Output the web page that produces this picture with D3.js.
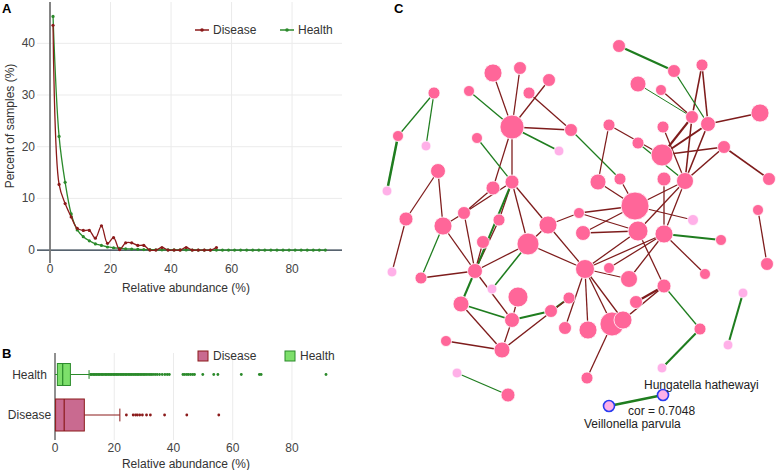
<!DOCTYPE html>
<html>
<head>
<meta charset="utf-8">
<script src="https://cdn.jsdelivr.net/npm/d3@7/dist/d3.min.js"></script>
<style>
body { margin: 0; background: #fff; }
text { font-family: "Liberation Sans", Arial, sans-serif; }
</style>
</head>
<body>
<svg width="777" height="470"></svg>
<script>
// ---- panel A: distribution of relative abundance ----
const binsDisease = [1,3,5,7,9,11,13,15,17,19,21,23,25,27,29,31,33,35,37,39,41,43,45,47,49,51,53,55];
const pctDisease = [43.5,12.7,9.0,6.4,4.2,3.8,3.8,2.3,4.7,1.3,2.4,0.1,1.4,1.4,0.9,0.9,0,0,0.5,0,0,0,0.5,0,0,0,0,0.5];
const binsHealth = [1,3,5,7,9,11,13,15,17,19,21,23,25,27,29,31,33,35,37,39,41,43,45,47,49,51,53,55,57,59,61,63,65,67,69,71,73,75,77,79,81,83,85,87,89,91];
const pctHealth = [45.2,22.0,13.1,7.0,3.9,2.6,1.8,1.2,0.9,0.6,0.45,0.35,0.25,0.2,0.15,0.1,0.08,0.06,0.05,0.04,0.03,0.03,0.03,0.02,0.01,0.01,0.01,0.01,0,0,0,0.01,0,0,0.01,0,0,0,0,0,0,0,0,0,0,0.01];
const xTicksA = [0,20,40,60,80];
const yTicksA = [0,10,20,30,40];

// ---- panel B: box plots ----
const boxGroups = ["Health","Disease"];
const boxLo = [0, 0];
const boxQ1 = [0.8, 0.2];
const boxMed = [2.6, 3.1];
const boxQ3 = [5.2, 9.9];
const boxHi = [11.5, 21.9];
const boxN = [470, 1000];
const outHealth = [12,12.4,12.9,13.3,13.8,14.2,14.7,15.1,15.6,16,16.5,17,17.4,17.9,18.3,18.8,19.2,19.7,20.1,20.6,21,21.5,22,22.4,22.9,23.3,23.8,24.2,24.7,25.1,25.6,26,26.5,27,27.4,27.9,28.3,28.8,29.3,29.8,30.3,30.8,31.4,32,32.5,33.1,33.8,34.5,35.3,36.2,37.1,37.9,38.6,43.2,43.8,44.5,45.1,45.8,46.5,47.1,49.9,53.6,55.0,62.9,69.0,69.6,91.5];
const outDisease = [24.1,26.4,27.2,27.8,28.6,29.5,30.9,32.2,37.0,44.5,55.3];

// ---- panel C: co-occurrence network (layout units) ----
const nodeX = [113,140,169,149,89,54,132,18,46,179,97,7,58,132,113,84,119,26,63,168,103,148,12,41,95,112,138,81,132,171,189,185,66,122,77,128,191,
  239,294,322,258,281,312,328,380,229,283,258,282,344,305,284,240,218,389,255,313,378,199,203,258,284,341,387,205,229,249,325,284,363,256,208,232,243,320,348,282,207,283,229];
const nodeY = [33,28,40,53,51,53,87,96,106,111,98,151,131,142,148,173,180,179,186,185,202,204,232,238,231,249,257,264,280,271,258,288,301,310,333,355,90,
  6,31,25,44,50,77,84,73,85,87,103,115,107,141,139,139,142,139,166,180,170,173,193,191,194,200,224,229,228,239,234,246,253,262,290,284,280,289,305,328,338,355,366];
const nodeAbund = [8.3,4.3,4.3,3.7,3.1,3.7,14.7,3.1,2.5,2.5,3.1,2.5,5.7,5.0,5.0,4.3,3.7,5.0,8.3,8.3,4.3,12.3,2.5,3.7,5.7,2.5,10.2,6.5,5.7,4.3,3.7,4.3,3.1,6.5,2.5,5.0,4.3,
  4.3,4.3,3.7,6.5,3.1,4.3,5.7,8.3,3.7,3.7,3.7,12.3,4.3,7.4,5.0,3.7,6.5,4.3,20,3.1,3.1,3.1,5.7,10.2,8.3,3.1,4.3,9.2,3.1,7.4,3.1,5.0,2.5,4.3,8.3,14.7,8.3,3.7,2.5,2.5,3.7,3.1,3.1];
const nodeSig = [1,1,1,1,1,1,1,1,0,0,1,0,1,1,1,1,1,1,1,1,1,1,0,1,1,0,1,1,1,1,1,1,1,1,0,1,1,
  1,1,1,1,1,1,1,1,1,1,1,1,1,1,1,1,1,1,1,0,1,1,1,1,1,1,1,1,1,1,1,1,0,1,1,1,1,1,0,0,1,0,0];
const edges = [
  [5,7,"H",0.35],[5,8,"H",0.35],[7,11,"H",0.70],[0,6,"D",0.35],[1,6,"D",0.35],[2,6,"D",0.35],[4,6,"H",0.35],
  [6,36,"D",0.43],[6,9,"H",0.43],[3,36,"D",0.35],[6,14,"D",0.35],[6,13,"D",0.35],[10,13,"H",0.35],[12,17,"D",0.35],
  [12,18,"D",0.35],[15,14,"D",0.35],[15,13,"D",0.35],[15,18,"D",0.35],[13,19,"D",0.35],[16,13,"D",0.35],[16,24,"D",0.35],
  [13,24,"H",0.57],[24,27,"H",0.57],[13,21,"D",0.35],[21,24,"D",0.35],[21,25,"H",0.43],[21,19,"D",0.35],[19,58,"D",0.35],
  [19,64,"D",0.35],[21,64,"D",0.35],[24,28,"D",0.35],[27,28,"H",0.43],[27,33,"D",0.35],[28,26,"D",0.35],[28,33,"D",0.35],
  [28,29,"H",0.57],[29,30,"H",0.57],[33,32,"D",0.35],[33,30,"D",0.35],[24,23,"D",0.35],[24,20,"D",0.35],[24,18,"D",0.35],
  [24,15,"D",0.35],[18,23,"H",0.35],[17,22,"D",0.35],[35,34,"H",0.35],[36,52,"H",0.35],
  [45,53,"D",0.35],[45,48,"D",0.35],[47,50,"H",0.35],[52,55,"D",0.35],[53,55,"D",0.35],[55,50,"D",0.35],[55,58,"D",0.35],
  [55,59,"D",0.35],[55,56,"D",0.35],[46,50,"D",0.35],[48,42,"D",0.57],[48,43,"D",0.57],[48,49,"D",0.43],[50,42,"D",0.43],
  [50,43,"D",0.43],[50,49,"D",0.43],[39,42,"D",0.43],[39,43,"D",0.43],[38,37,"H",0.62],[38,43,"H",0.35],[40,42,"H",0.27],
  [41,42,"D",0.35],[43,44,"D",0.43],[49,54,"D",0.43],[51,61,"D",0.35],[50,60,"D",0.35],[50,61,"D",0.35],[61,62,"H",0.57],
  [61,67,"D",0.35],[61,66,"D",0.35],[61,64,"D",0.35],[60,68,"D",0.35],[60,58,"D",0.35],[60,59,"D",0.35],[64,60,"D",0.35],
  [57,63,"D",0.35],[68,74,"H",0.35],[74,76,"H",0.57],[69,75,"H",0.57],[78,79,"H",0.7048],[64,31,"D",0.35],[64,71,"D",0.35],
  [64,72,"D",0.35],[64,73,"D",0.35],[64,66,"D",0.35],[65,61,"D",0.35],[68,70,"D",0.57],[68,73,"D",0.43],[72,77,"D",0.35]
];
const selected = [78, 79];
const selLabels = ["Hungatella hathewayi", "Veillonella parvula"];

const colD = "#8b1a1a", colH = "#2b8a2b", grid = "#ebebeb";
const svg = d3.select("svg");

// ================= A =================
const gA = svg.append("g");
const xA = d3.scaleLinear().domain([-4.3, 96.5]).range([37, 342]);
const yA = d3.scaleLinear().domain([-2.5, 48]).range([263, 2]);

gA.selectAll("line.vg").data(xTicksA.slice(1)).enter().append("line")
  .attr("x1", d => xA(d)).attr("x2", d => xA(d)).attr("y1", 2).attr("y2", 263)
  .attr("stroke", grid);
gA.selectAll("line.hg").data(yTicksA.slice(1)).enter().append("line")
  .attr("x1", 37).attr("x2", 342).attr("y1", d => yA(d)).attr("y2", d => yA(d))
  .attr("stroke", grid);
gA.append("line").attr("x1", 37).attr("x2", 342).attr("y1", yA(0)).attr("y2", yA(0))
  .attr("stroke", "#1f2f3f").attr("stroke-width", 1.2);
gA.append("line").attr("x1", xA(0)).attr("x2", xA(0)).attr("y1", 2).attr("y2", 263)
  .attr("stroke", "#777").attr("stroke-width", 1.8);

gA.selectAll("text.xt").data(xTicksA).enter().append("text")
  .attr("x", d => xA(d)).attr("y", 273).attr("text-anchor", "middle")
  .attr("font-size", 12).attr("fill", "#444").text(d => d);
gA.selectAll("text.yt").data(yTicksA).enter().append("text")
  .attr("x", 35).attr("y", d => yA(d) + 4).attr("text-anchor", "end")
  .attr("font-size", 12).attr("fill", "#444").text(d => d);
gA.append("text").attr("x", 186).attr("y", 292).attr("text-anchor", "middle")
  .attr("font-size", 12).attr("fill", "#333").text("Relative abundance (%)");
gA.append("text").attr("transform", "translate(14,126) rotate(-90)").attr("text-anchor", "middle")
  .attr("font-size", 12).attr("fill", "#333").text("Percent of samples (%)");

const lineA = d3.line().x(d => xA(d[0])).y(d => yA(d[1])).curve(d3.curveCatmullRom.alpha(0.5));
const seriesA = [
  { color: colH, pts: d3.zip(binsHealth, pctHealth) },
  { color: colD, pts: d3.zip(binsDisease, pctDisease) }
];
seriesA.forEach(s => {
  gA.append("path").attr("d", lineA(s.pts)).attr("fill", "none")
    .attr("stroke", s.color).attr("stroke-width", 1.3);
  gA.selectAll(null).data(s.pts).enter().append("circle")
    .attr("cx", d => xA(d[0])).attr("cy", d => yA(d[1])).attr("r", 1.6)
    .attr("fill", s.color);
});

const legA = [["Disease", colD, 195], ["Health", colH, 280]];
legA.forEach(([lab, c, x]) => {
  gA.append("line").attr("x1", x).attr("x2", x + 14).attr("y1", 30).attr("y2", 30)
    .attr("stroke", c).attr("stroke-width", 1.5);
  gA.append("circle").attr("cx", x + 7).attr("cy", 30).attr("r", 1.8).attr("fill", c);
  gA.append("text").attr("x", x + 18).attr("y", 34).attr("font-size", 12)
    .attr("fill", "#333").text(lab);
});
svg.append("text").attr("x", 2).attr("y", 13).attr("font-size", 13)
  .attr("font-weight", "bold").text("A");

// ================= B =================
const gB = svg.append("g");
const xB = d3.scaleLinear().domain([0, 96.9]).range([55, 342]);
const yB = d3.scalePoint().domain(boxGroups).range([374.5, 415]);
const hB = d3.scaleSqrt().domain([0, 1000]).range([0, 32]);
const fillB = { Health: "#7ddf6b", Disease: "#c96a90" };
const lineB = { Health: colH, Disease: colD };

gB.selectAll("line.vg").data(xTicksA.slice(1)).enter().append("line")
  .attr("x1", d => xB(d)).attr("x2", d => xB(d)).attr("y1", 353).attr("y2", 440)
  .attr("stroke", grid);
gB.append("line").attr("x1", 55).attr("x2", 55).attr("y1", 353).attr("y2", 440)
  .attr("stroke", "#222").attr("stroke-width", 1);
gB.selectAll("text.xt").data(xTicksA).enter().append("text")
  .attr("x", d => xB(d)).attr("y", 452).attr("text-anchor", "middle")
  .attr("font-size", 12).attr("fill", "#444").text(d => d);
gB.append("text").attr("x", 186).attr("y", 468).attr("text-anchor", "middle")
  .attr("font-size", 12).attr("fill", "#333").text("Relative abundance (%)");
gB.selectAll("text.yt").data(boxGroups).enter().append("text")
  .attr("x", 29.5).attr("y", d => yB(d) + 4).attr("text-anchor", "middle")
  .attr("font-size", 12).attr("fill", "#333").text(d => d);

const outliers = { Health: outHealth, Disease: outDisease };
boxGroups.forEach((g, i) => {
  const cy = yB(g), h = hB(boxN[i]), c = lineB[g];
  gB.append("line").attr("x1", xB(boxLo[i])).attr("x2", xB(boxQ1[i])).attr("y1", cy).attr("y2", cy)
    .attr("stroke", c);
  gB.append("line").attr("x1", xB(boxQ3[i])).attr("x2", xB(boxHi[i])).attr("y1", cy).attr("y2", cy)
    .attr("stroke", c);
  gB.append("line").attr("x1", xB(boxHi[i])).attr("x2", xB(boxHi[i]))
    .attr("y1", cy - h * 0.2).attr("y2", cy + h * 0.2).attr("stroke", c);
  gB.append("rect").attr("x", xB(boxQ1[i])).attr("y", cy - h / 2)
    .attr("width", xB(boxQ3[i]) - xB(boxQ1[i])).attr("height", h)
    .attr("fill", fillB[g]).attr("stroke", c).attr("stroke-width", 1);
  gB.append("line").attr("x1", xB(boxMed[i])).attr("x2", xB(boxMed[i]))
    .attr("y1", cy - h / 2).attr("y2", cy + h / 2).attr("stroke", c).attr("stroke-width", 1.2);
  gB.selectAll(null).data(outliers[g]).enter().append("circle")
    .attr("cx", d => xB(d)).attr("cy", cy).attr("r", 1.4).attr("fill", c);
});
const legB = [["Disease", 198], ["Health", 285]];
legB.forEach(([lab, x]) => {
  gB.append("rect").attr("x", x).attr("y", 351).attr("width", 10).attr("height", 10)
    .attr("fill", fillB[lab]).attr("stroke", lineB[lab]);
  gB.append("text").attr("x", x + 15).attr("y", 360).attr("font-size", 12)
    .attr("fill", "#333").text(lab);
});
svg.append("text").attr("x", 2).attr("y", 358).attr("font-size", 13)
  .attr("font-weight", "bold").text("B");

// ================= C =================
const gC = svg.append("g");
const xC = d3.scaleLinear().domain([0, 400]).range([380, 780]);
const yC = d3.scaleLinear().domain([0, 400]).range([40, 440]);
const rC = d3.scaleSqrt().domain([0, 20]).range([0, 14]);
const wC = d3.scaleLinear().domain([0.3, 0.7]).range([1.1, 2.5]);
const nodes = nodeX.map((x, i) => ({ id: i, x: xC(x), y: yC(nodeY[i]), r: rC(nodeAbund[i]), sig: nodeSig[i] }));

gC.selectAll("line").data(edges).enter().append("line")
  .attr("x1", d => nodes[d[0]].x).attr("y1", d => nodes[d[0]].y)
  .attr("x2", d => nodes[d[1]].x).attr("y2", d => nodes[d[1]].y)
  .attr("stroke", d => d[2] === "D" ? "#7e1c1c" : "#1f7d1f")
  .attr("stroke-width", d => wC(d[3]));

gC.selectAll("circle").data(nodes).enter().append("circle")
  .attr("cx", d => d.x).attr("cy", d => d.y).attr("r", d => d.r)
  .attr("fill", d => d.sig ? "#ff6699" : "#ffb0e8")
  .attr("stroke", d => selected.includes(d.id) ? "#2a3cf0" : "#fff")
  .attr("stroke-width", d => selected.includes(d.id) ? 1.6 : 0.8);

const a = nodes[selected[0]], b = nodes[selected[1]];
gC.append("text").attr("x", a.x - 19).attr("y", a.y - 6).attr("font-size", 12)
  .attr("fill", "#222").text(selLabels[0]);
gC.append("text").attr("x", b.x - 25).attr("y", b.y + 22).attr("font-size", 12)
  .attr("fill", "#222").text(selLabels[1]);
const selEdge = edges.find(e => e[0] === selected[0] && e[1] === selected[1]);
gC.append("text").attr("x", (a.x + b.x) / 2 - 8).attr("y", (a.y + b.y) / 2 + 14)
  .attr("font-size", 12).attr("fill", "#222").text("cor = " + selEdge[3].toFixed(4));
svg.append("text").attr("x", 394).attr("y", 13).attr("font-size", 13)
  .attr("font-weight", "bold").text("C");
</script>
</body>
</html>
